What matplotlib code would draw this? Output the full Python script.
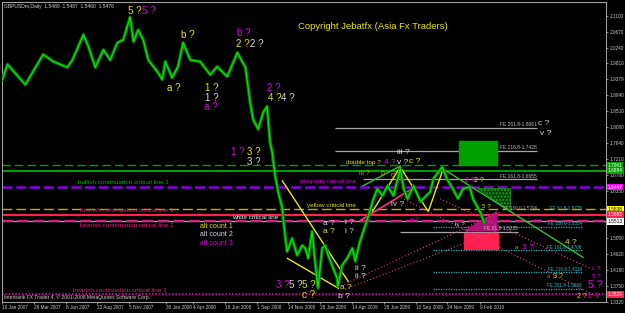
import matplotlib
matplotlib.use('Agg')
import matplotlib.pyplot as plt
from matplotlib.patches import Rectangle, Polygon
import pandas as pd

plt.rcParams['font.family'] = ['Liberation Sans', 'DejaVu Sans']

# chart data (days are counted from 10 Jan 2007)
start = pd.Timestamp('2007-01-10')

price_dates = ['2007-01-10', '2007-01-22', '2007-03-05', '2007-04-16', '2007-05-10', '2007-06-12',
               '2007-06-24', '2007-07-20', '2007-08-01', '2007-08-17', '2007-09-05', '2007-09-21',
               '2007-10-08', '2007-10-22', '2007-11-07', '2007-11-15', '2007-11-26', '2007-12-08',
               '2007-12-20', '2008-01-10', '2008-01-22', '2008-01-29', '2008-02-14', '2008-02-28',
               '2008-03-11', '2008-03-28', '2008-04-20', '2008-05-14', '2008-05-30', '2008-06-23',
               '2008-07-17', '2008-07-28', '2008-08-05', '2008-08-16', '2008-08-23', '2008-09-04',
               '2008-09-16', '2008-09-25', '2008-10-02', '2008-10-07', '2008-10-14', '2008-10-21',
               '2008-10-31', '2008-11-02', '2008-11-11', '2008-11-23', '2008-12-05', '2008-12-17',
               '2008-12-24', '2008-12-31', '2009-01-09', '2009-01-16', '2009-01-23', '2009-02-02',
               '2009-02-09', '2009-02-16', '2009-02-28', '2009-03-09', '2009-03-11', '2009-03-21',
               '2009-04-02', '2009-04-14', '2009-04-21', '2009-05-02', '2009-05-10', '2009-05-22',
               '2009-06-03', '2009-06-12', '2009-06-24', '2009-07-06', '2009-07-20', '2009-08-05',
               '2009-08-13', '2009-08-22', '2009-09-05', '2009-09-22', '2009-10-15', '2009-10-22',
               '2009-11-12', '2009-11-23', '2009-12-07', '2009-12-19', '2009-12-31', '2010-01-16',
               '2010-01-23', '2010-02-09', '2010-02-19']
price_close = [1.937, 1.978, 1.923, 2.005, 1.986, 1.970, 1.990, 2.059, 2.026, 1.970,
               2.018, 1.990, 2.037, 2.045, 2.107, 2.040, 2.072, 2.045, 1.990,
               1.959, 1.937, 1.986, 1.942, 1.972, 2.037, 1.990, 1.986, 1.950, 1.972,
               1.945, 2.010, 1.986, 1.970, 1.875, 1.829, 1.802, 1.848, 1.864, 1.767,
               1.740, 1.675, 1.632, 1.586, 1.558, 1.469, 1.505, 1.459, 1.486, 1.478,
               1.451, 1.524, 1.443, 1.370, 1.478, 1.486, 1.459, 1.424, 1.397, 1.375,
               1.432, 1.451, 1.478, 1.443, 1.497, 1.524, 1.567, 1.613, 1.640, 1.621,
               1.648, 1.621, 1.694, 1.640, 1.613, 1.648, 1.605, 1.632, 1.667, 1.699,
               1.667, 1.640, 1.613, 1.640, 1.645, 1.613, 1.578, 1.548]

date_labels = ['10 Jan 2007', '26 Mar 2007', '8 Jun 2007', '22 Aug 2007', '5 Nov 2007',
               '30 Jan 2008', '4 Apr 2008', '18 Jun 2008', '1 Sep 2008', '14 Nov 2008',
               '28 Jan 2009', '14 Apr 2009', '28 Jun 2009', '10 Sep 2009', '24 Nov 2009', '9 Feb 2010']
price_ticks = [2.1100, 2.0670, 2.0240, 1.9810, 1.9379, 1.8940, 1.8510, 1.8080, 1.7640,
               1.7210, 1.6780, 1.6350, 1.5050, 1.4620, 1.4180, 1.3750, 1.3320]

# critical lines (full width)
level_prices = [1.7041, 1.6884, 1.6447, 1.5838, 1.5693, 1.5513, 1.5513, 1.3529]
level_styles = [('#00a000', (0, (6, 3)), 1.0), ('#00c000', '-', 1.2), ('#8a00e0', (0, (4, 1.5)), 1.8),
                ('#c8a800', (0, (7, 3)), 1.0), ('#ff2050', '-', 1.5), ('#a0a0a0', '-', 1.0),
                ('#d02080', (0, (5, 2)), 1.6), ('#e000a0', (0, (1, 1)), 1.2)]
box_prices = [1.7041, 1.6884, 1.6447, 1.5838, 1.5693, 1.5513, 1.3529]
box_styles = [('#00a000', 'white'), ('#00a000', 'white'), ('#ff00ff', 'white'), ('#ffff00', 'black'),
              ('#ff2050', 'white'), ('#ffffff', 'black'), ('#ff2050', 'white')]

line_names = ['bullish continuation critical line 1', 'magenta critical line', 'yellow critical line',
              'bearish continuation critical line 1', 'white critical line',
              'bearish continuation critical line 2', 'bearish continuation critical line 3']
line_name_pos = [(179, 1.6560), (702, 1.6587), (719, 1.5938), (184, 1.5803), (542, 1.5614),
                 (184, 1.5397), (167, 1.3641)]
line_name_colors = ['#00b000', '#d000d0', '#e0e000', '#e0207a', '#e8e8e8', '#e0207a', '#e0207a']

# fibo expansion levels: (price, first day, last day, label)
fe_grey = [(1.8061, 784, 1260, 'FE 261.8-1.8061'), (1.7428, 784, 1260, 'FE 216.8-1.7428'),
           (1.6655, 850, 1260, 'FE 161.8-1.6655'), (1.5235, 938, 1216, 'FE 61.8-1.5235')]
fe_teal = [(1.5370, 1015, 1366, 'FE 100.0-1.5354'), (1.4722, 1015, 1366, 'FE 161.8-1.4706'),
           (1.4127, 1015, 1366, 'FE 216.8-1.4119'), (1.3668, 1015, 1366, 'FE 261.8-1.3668')]

# target zones
green_box = (1077, 1166, 1.7046, 1.7695)
red_box = (1088, 1169, 1.4749, 1.5208)
magenta_tri = [(1091, 1.5262), (1166, 1.5776), (1166, 1.5262)]
green_tri = [(1119, 1.6424), (1197, 1.6424), (1197, 1.5803)]

# trend lines
yellow_lines = [[(660, 1.6614), (815, 1.3884)], [(672, 1.4505), (792, 1.3695)],
                [(872, 1.5776), (938, 1.6992), (1004, 1.5776), (1039, 1.6938)]]
green_lines = [[(850, 1.6478), (938, 1.7019)], [(1039, 1.6938), (1369, 1.4533)]]
pink_lines = [[(843, 1.5532), (973, 1.6451)]]
dotted_lines = [[(792, 1.3721), (1173, 1.5776)], [(808, 1.3667), (1173, 1.5289)],
                [(926, 1.6235), (1409, 1.3424)], [(1032, 1.6127), (1386, 1.4235)]]

Y, W, M, O = '#e6e600', '#d8d8d8', '#e000e0', '#a8a800'
wave_labels = [
    ('5 ?', Y, 297, 2.1235, 7), ('5 ?', M, 330, 2.1235, 7), ('b ?', Y, 422, 2.0587, 7),
    ('a ?', Y, 389, 1.9127, 7), ('1 ?', Y, 478, 1.9127, 7), ('1 ?', W, 478, 1.8857, 7),
    ('a ?', M, 476, 1.8614, 7), ('b ?', M, 554, 2.0641, 7), ('2 ?', Y, 551, 2.0343, 7),
    ('2 ?', W, 584, 2.0343, 7), ('2 ?', M, 624, 1.9127, 7), ('4 ?', Y, 627, 1.8857, 7),
    ('4 ?', W, 657, 1.8857, 7), ('1 ?', M, 540, 1.7397, 7), ('3 ?', Y, 577, 1.7397, 7),
    ('3 ?', W, 577, 1.7127, 7), ('3 ?', M, 646, 1.3775, 7), ('5 ?', W, 676, 1.3775, 7),
    ('5 ?', Y, 707, 1.3775, 7), ('c ?', Y, 707, 1.3506, 7), ('a ?', Y, 796, 1.3721, 6),
    ('b ?', W, 792, 1.3478, 6), ('ii ?', W, 832, 1.4235, 6), ('ii ?', W, 832, 1.4019, 6),
    ('a ?', W, 756, 1.5451, 6), ('i ?', W, 808, 1.5478, 6), ('a ?', Y, 756, 1.5235, 6),
    ('i ?', W, 808, 1.5235, 6), ('iii ?', W, 931, 1.7397, 6), ('double top ?', Y, 811, 1.7127, 4.6),
    ('4 ?', M, 900, 1.7127, 6), ('v ?', W, 931, 1.7127, 6), ('c ?', Y, 959, 1.7154, 6),
    ('iii ?', O, 841, 1.6803, 5), ('b', O, 891, 1.6803, 5), ('d', O, 916, 1.6749, 5),
    ('iv ?', W, 916, 1.5965, 6), ('c ?', W, 1263, 1.8181, 6), ('v ?', W, 1268, 1.7911, 6),
    ('2 ?', M, 1091, 1.6614, 5), ('2 ?', Y, 1112, 1.6614, 5), ('5 ?', Y, 1131, 1.5911, 4.5),
    ('iv ?', W, 1067, 1.5424, 4.5), ('4 ?', Y, 1326, 1.4938, 6), ('a', O, 1209, 1.4803, 4.5),
    ('3 ?', M, 1225, 1.4803, 6), ('c ?', M, 1390, 1.4235, 4.5), ('5 ?', M, 1390, 1.4019, 4.5),
    ('a', O, 1284, 1.4019, 4), ('3 ?', Y, 1298, 1.4019, 5), ('5 ?', M, 1381, 1.3775, 7.5),
    ('2 ?', Y, 1355, 1.3478, 5), ('c ?', M, 1381, 1.3478, 6), ('4 ?', M, 1250, 1.5520, 4.5),
    ('a ?', M, 961, 1.5559, 4.5)]

alt_counts = ['alt count 1', 'alt count 2', 'alt count 3']
alt_prices = [1.5370, 1.5154, 1.4911]
alt_colors = [Y, W, M]


def day(s):
    return (pd.Timestamp(s) - start).days


fig = plt.figure(figsize=(6.25, 3.13), dpi=100, facecolor='black')
ax = fig.add_axes([2 / 625, 11 / 313, 604 / 625, 300 / 313], facecolor='black')

# critical lines
for p, (c, ls, lw) in zip(level_prices, level_styles):
    ax.axhline(p, color=c, linestyle=ls, lw=lw, zorder=1)

# fibo levels
for p, x0, x1, lab in fe_grey:
    ax.hlines(p, x0, x1, color='#a8a8a8', lw=0.9, zorder=1)
    ax.text(x1, p + 0.002, lab, color='#c0c0c0', fontsize=3.5, ha='right', va='bottom')
for p, x0, x1, lab in fe_teal:
    ax.hlines(p, x0, x1, color='#20b0b0', lw=0.9, linestyle=(0, (1, 1)), zorder=1)
    ax.text(x1, p + 0.002, lab, color='#20c0c0', fontsize=3.3, ha='right', va='bottom')
ax.text(1180, 1.5857, 'FE 100.0-1.5796', color='#a0a0a0', fontsize=3.3, ha='left', va='center')
ax.text(1291, 1.5857, 'FE 61.8-1.5775', color='#20c0c0', fontsize=3.3, ha='left', va='center')

# zones
x0, x1, y0, y1 = green_box
ax.add_patch(Rectangle((x0, y0), x1 - x0, y1 - y0, color='#00a000', zorder=2))
x0, x1, y0, y1 = red_box
ax.add_patch(Rectangle((x0, y0), x1 - x0, y1 - y0, color='#ff2050', zorder=2))
ax.add_patch(Polygon(magenta_tri, closed=True, color='#b0107a', zorder=2))
ax.add_patch(Polygon(green_tri, closed=True, facecolor='#004000', edgecolor='#20a020',
                     hatch='.....', lw=0.5, zorder=2))

# trend lines
for seg in yellow_lines:
    xs, ys = zip(*seg)
    ax.plot(xs, ys, color='#e8e800', lw=1.0, zorder=3)
for seg in green_lines:
    xs, ys = zip(*seg)
    ax.plot(xs, ys, color='#30c030', lw=1.0, zorder=3)
for seg in pink_lines:
    xs, ys = zip(*seg)
    ax.plot(xs, ys, color='#ff3080', lw=1.2, zorder=3)
for seg in dotted_lines:
    xs, ys = zip(*seg)
    ax.plot(xs, ys, color='#e04080', lw=0.8, linestyle=(0, (1, 2)), zorder=3)

# price
px = [day(d) for d in price_dates]
ax.plot(px, price_close, color='#007a00', lw=2.4, zorder=4)
ax.plot(px, price_close, color='#10e010', lw=0.9, zorder=4)

# texts
for t, c, x, y, s in wave_labels:
    ax.text(x, y, t, color=c, fontsize=s, ha='left', va='center', zorder=6)
for t, (x, y), c in zip(line_names, line_name_pos, line_name_colors):
    ax.text(x, y, t, color=c, fontsize=4.6, ha='left', va='center', zorder=6)
for t, y, c in zip(alt_counts, alt_prices, alt_colors):
    ax.text(466, y, t, color=c, fontsize=5, ha='left', va='center', zorder=6)
ax.text(697, 2.0803, 'Copyright Jebatfx (Asia Fx Traders)', color='#e8e800', fontsize=6.8,
        ha='left', va='center')
ax.text(0.003, 0.985, 'GBPUSDm,Daily  1.5469  1.5487  1.5460  1.5476', color='#d0d0d0',
        fontsize=3.6, transform=ax.transAxes, ha='left', va='center')
ax.text(0.003, 0.005, 'Interbank FX Trader 4, \u00a9 2001-2008 MetaQuotes Software Corp.',
        color='#d0d0d0', fontsize=3.6, transform=ax.transAxes, ha='left', va='bottom')

# axis boxes on the price scale
for p, (bg, fg) in zip(box_prices, box_styles):
    ax.text(1.003, p, '%.4f' % p, color=fg, fontsize=3.4, ha='left', va='center',
            transform=ax.get_yaxis_transform(), zorder=7,
            bbox=dict(boxstyle='square,pad=0.2', facecolor=bg, edgecolor='none'))

ax.set_xlim(-1, 1423)
ax.set_ylim(1.3370, 2.1478)
ax.yaxis.tick_right()
ax.set_yticks(price_ticks)
ax.set_yticklabels(['%.4f' % p for p in price_ticks])
ax.set_xticks([day(d) for d in date_labels])
ax.set_xticklabels(date_labels)
for lab in ax.get_xticklabels():
    lab.set_horizontalalignment('left')
ax.tick_params(colors='#a0a0a0', labelcolor='#c8c8c8', labelsize=3.4, length=1.5, width=0.6, pad=1)
for sp in ax.spines.values():
    sp.set_color('#a0a0a0')
    sp.set_linewidth(0.8)

fig.savefig('out.png', dpi=100, facecolor='black')
